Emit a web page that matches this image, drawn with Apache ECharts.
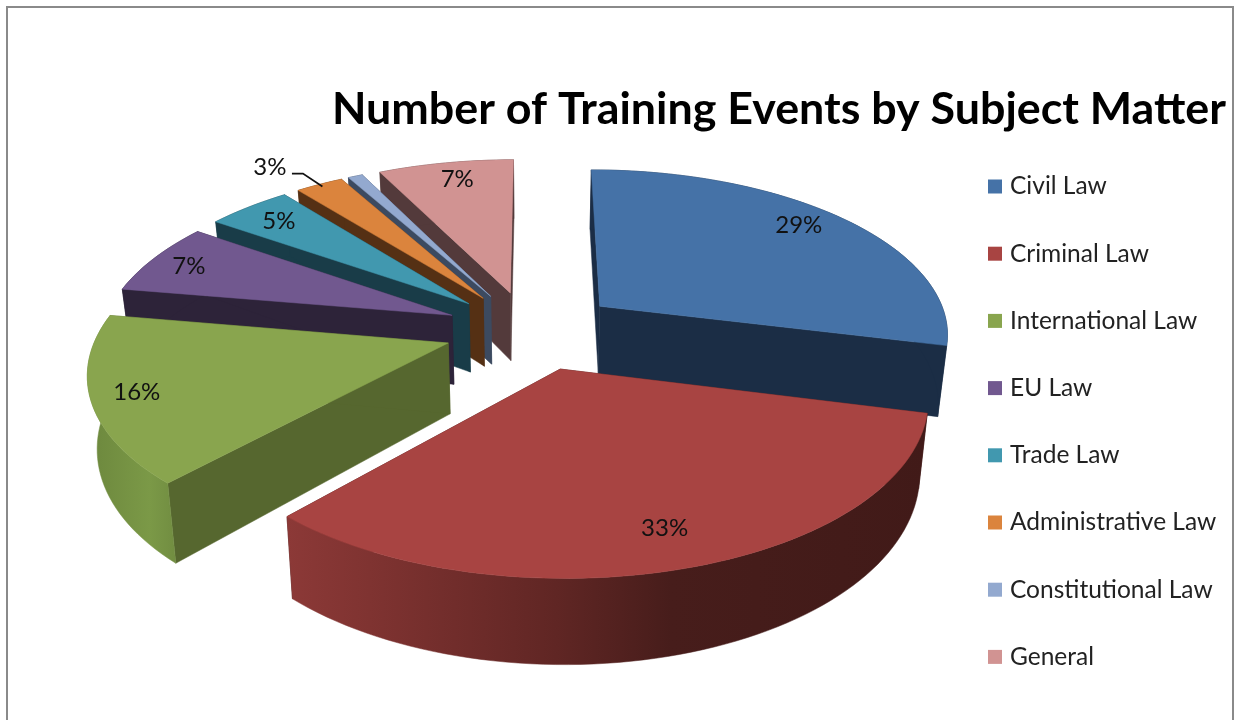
<!DOCTYPE html>
<html>
<head>
<meta charset="utf-8">
<title>Number of Training Events by Subject Matter</title>
<style>
  html, body { margin: 0; padding: 0; background: #fff; }
  #main { width: 1234px; height: 720px; }
</style>
<script src="https://cdn.jsdelivr.net/npm/echarts@6/dist/echarts.min.js"></script>
</head>
<body>
<div id="main"></div>
<script>
// share of events per subject
const subjects = ["Civil Law", "Criminal Law", "International Law", "EU Law", "Trade Law", "Administrative Law", "Constitutional Law", "General"];
const shares = [29, 33, 16, 7, 4.6, 2.6, 0.8, 7.4];
const topColors = ["#4572a7", "#a84442", "#89a54e", "#71588f", "#4198af", "#db843d", "#93a9cf", "#d19392"];
const wallColors = ["#1b2d45", "#431b19", "#56672f", "#2d2339", "#193c48", "#553014", "#3c4a60", "#533a3b"];
// painter's order, back of the pie first
const drawOrder = [7, 6, 5, 4, 3, 2, 0, 1];

// projection of the tilted, exploded pie
const view = { cx: 535, cy: 330, rx: 350, ry: 164, persp: 0.153, depth: 70, shrink: 0.978, explode: 0.24, leftPull: 0.018 };
// label position: fraction of radius, then a nudge in pixels
const labelPlace = [
    [0.82, -2, -7], [0.85, -2, -5], [0.88, 1, -1], [0.85, -8, 0],
    [0.85, 0, 1], [1.2, -21, 3], [0, 0, 0], [0.85, 3, -1]
];

const total = shares.reduce((a, b) => a + b, 0);
let run = 0;
const angles = shares.map((v) => {
    const from = run / total * 2 * Math.PI;
    run += v;
    return [from, run / total * 2 * Math.PI];
});

function project(u, v, bottom) {
    const w = 1 / (1 - view.persp * v);
    let x = view.cx + view.rx * u * w;
    let y = view.cy + view.ry * v * w;
    if (bottom) {
        x = view.cx + (x - view.cx) * view.shrink;
        y += view.depth * w;
    }
    return [x, y];
}

function outerFill(i) {
    if (i === 1) {
        return new echarts.graphic.LinearGradient(0, 0, 1, 0, [
            { offset: 0, color: "#8c3937" }, { offset: 0.15, color: "#7d3230" },
            { offset: 0.42, color: "#602624" }, { offset: 0.6, color: "#471d1b" },
            { offset: 1, color: "#411a18" }
        ]);
    }
    if (i === 2) {
        return new echarts.graphic.LinearGradient(0, 0, 1, 0, [
            { offset: 0, color: "#6c873d" }, { offset: 0.7, color: "#7b9947" },
            { offset: 1, color: "#718d41" }
        ]);
    }
    return wallColors[i];
}

function renderSlice(i) {
    return function (params, api) {
        const [a0, a1] = angles[i];
        const mid = (a0 + a1) / 2;
        const side = Math.sin(mid);
        const ou = view.explode * side - (side < 0 ? view.leftPull : 0);
        const ov = -view.explode * Math.cos(mid);
        const at = (a, f, bottom) => project(ou + f * Math.sin(a), ov - f * Math.cos(a), bottom);

        const rimTop = [], rimBottom = [];
        const steps = Math.max(2, Math.ceil((a1 - a0) / 0.03));
        for (let s = 0; s <= steps; s++) {
            const a = a0 + (a1 - a0) * s / steps;
            rimTop.push(at(a, 1, false));
            rimBottom.push(at(a, 1, true));
        }
        const apexTop = at(0, 0, false);
        const apexBottom = at(0, 0, true);
        const poly = (points, fill) => ({
            type: "polygon",
            shape: { points: points },
            style: { fill: fill, stroke: fill, lineWidth: 0.5 }
        });

        const children = [
            poly([apexTop, rimTop[0], rimBottom[0], apexBottom], wallColors[i]),
            poly([apexTop, rimTop[steps], rimBottom[steps], apexBottom], wallColors[i]),
            poly(rimTop.concat(rimBottom.slice().reverse()), outerFill(i)),
            poly([apexTop].concat(rimTop), topColors[i])
        ];

        const pct = Math.round(api.value(0) / total * 100);
        if (api.value(0) >= 1) {
            const [f, dx, dy] = labelPlace[i];
            const p = at(mid, f, false);
            const lx = p[0] + dx, ly = p[1] + dy;
            children.push({
                type: "text",
                style: {
                    x: lx, y: ly, text: pct + "%", fill: "#111",
                    font: "24px Lato", align: "center", verticalAlign: "middle"
                }
            });
            // the one label that sits outside its slice gets a leader line
            if (f > 1) {
                const end = at(a0 + (a1 - a0) * 0.5, 0.98, false);
                children.push({
                    type: "polyline",
                    shape: { points: [[lx + 22, ly + 6], [lx + 33, ly + 6], end] },
                    style: { stroke: "#111", lineWidth: 1.8, fill: null }
                });
            }
        }
        return { type: "group", children: children };
    };
}

const myChart = echarts.init(document.getElementById("main"), null, { renderer: "canvas" });

const option = {
    animation: false,
    backgroundColor: "#fff",
    title: {
        text: "Number of Training Events by Subject Matter",
        left: 327,
        top: 82,
        textStyle: { fontFamily: "Lato", fontWeight: "bold", fontSize: 44.8, color: "#000" }
    },
    legend: {
        orient: "vertical",
        left: 988,
        top: 174,
        padding: 0,
        itemWidth: 14,
        itemHeight: 14,
        itemGap: 42.2,
        icon: "rect",
        selectedMode: false,
        data: subjects,
        textStyle: { fontFamily: "Lato", fontSize: 24.5, color: "#222", lineHeight: 14, padding: [0, 0, 0, 3] }
    },
    graphic: [{
        type: "rect",
        shape: { x: 7, y: 7, width: 1226, height: 730 },
        style: { fill: "none", stroke: "#8a8a8a", lineWidth: 2 },
        silent: true
    }],
    series: subjects.map((name, i) => ({
        name: name,
        type: "custom",
        coordinateSystem: "none",
        z: 2 + drawOrder.indexOf(i),
        itemStyle: { color: topColors[i] },
        renderItem: renderSlice(i),
        data: [shares[i]],
        silent: true
    }))
};

myChart.setOption(option);
window.addEventListener("resize", myChart.resize);
</script>
</body>
</html>
